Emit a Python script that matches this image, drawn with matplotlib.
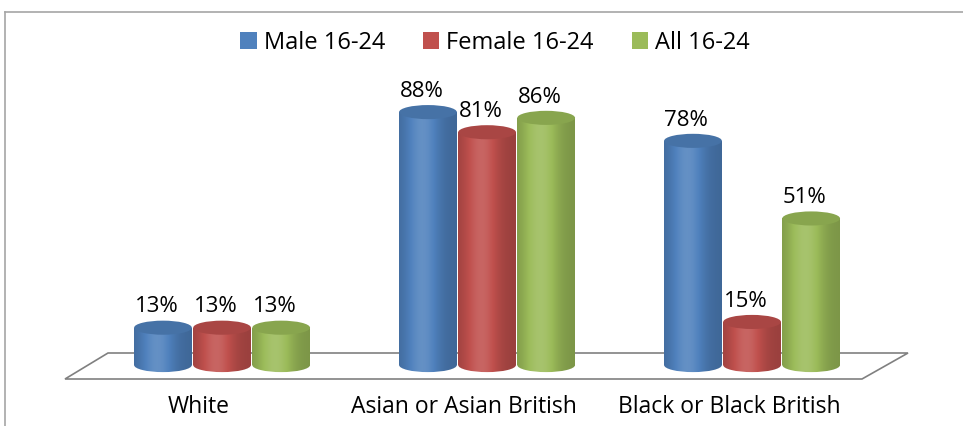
import numpy as np
import matplotlib.pyplot as plt
from matplotlib.patches import Ellipse, Rectangle, Polygon
from matplotlib.colors import to_rgb
from matplotlib.lines import Line2D

categories = ["White", "Asian or Asian British", "Black or Black British"]
series = ["Male 16-24", "Female 16-24", "All 16-24"]
male = [13, 88, 78]
female = [13, 81, 15]
all_1624 = [13, 86, 51]
values = [male, female, all_1624]
colors = ["#4F81BD", "#C0504D", "#9BBB59"]

plt.rcParams['font.family'] = ['Open Sans', 'DejaVu Sans']

fig = plt.figure(figsize=(9.63, 4.26), dpi=100)
ax = fig.add_axes([0, 0, 1, 1])
ax.set_xlim(-0.838, 2.796)
ax.set_ylim(-21.2, 127.0)
ax.axis('off')

# frame lines of the chart area
fig.add_artist(Line2D([0.0052, 1], [0.972, 0.972], color="#A6A6A6", lw=1.2))
fig.add_artist(Line2D([0.0052, 0.0052], [0, 0.972], color="#A6A6A6", lw=1.2))

# floor
floor = Polygon([(65 / 963, 1 - 379 / 426), (108 / 963, 1 - 353 / 426),
                 (908 / 963, 1 - 353 / 426), (862 / 963, 1 - 379 / 426)],
                closed=True, facecolor="white", edgecolor="#808080", lw=1.2,
                transform=fig.transFigure, zorder=0)
fig.add_artist(floor)


def shade(c, f):
    c = np.array(to_rgb(c))
    if f < 1:
        return c * f
    return c + (1 - c) * (f - 1)


t = np.linspace(0, 1, 60)
prof = 0.8 + 0.32 * np.exp(-((t - 0.4) / 0.3) ** 2)

width = 0.218
eh = 4.9
x = np.arange(len(categories))

for i, (vals, col) in enumerate(zip(values, colors)):
    grad = np.array([[shade(col, f) for f in prof]])
    for j, v in enumerate(vals):
        cx = x[j] + (i - 1) * 0.223
        x0, x1 = cx - width / 2, cx + width / 2
        z = 2 + i
        body = Rectangle((x0, 0), width, v, transform=ax.transData)
        im = ax.imshow(grad, extent=[x0, x1, -eh, v], aspect='auto',
                       interpolation='bilinear', zorder=z)
        im.set_clip_path(body)
        bottom = Ellipse((cx, 0), width, eh, transform=ax.transData)
        im2 = ax.imshow(grad, extent=[x0, x1, -eh, v], aspect='auto',
                        interpolation='bilinear', zorder=z)
        im2.set_clip_path(bottom)
        top = Ellipse((cx, v), width, eh, facecolor=shade(col, 0.88),
                      edgecolor='none', zorder=z + 0.1)
        ax.add_patch(top)
        ax.text(cx - 0.025, v + 3.6, f"{v}%", ha='center', va='bottom',
                fontsize=16, color="black", zorder=10)

for j, cat in enumerate(categories):
    ax.text(x[j] - 0.087, -14.6, cat, ha='center', va='center',
            fontsize=16.5, color="black")

ax.set_xlim(-0.838, 2.796)
ax.set_ylim(-21.2, 127.0)

handles = [Rectangle((0, 0), 1, 1, facecolor=c) for c in colors]
fig.legend(handles, series, loc='center', bbox_to_anchor=(0.514, 0.90),
           ncol=3, frameon=False, fontsize=17, handlelength=0.7,
           handleheight=0.7, handletextpad=0.3, columnspacing=1.6)

fig.savefig("out.png", dpi=100)
